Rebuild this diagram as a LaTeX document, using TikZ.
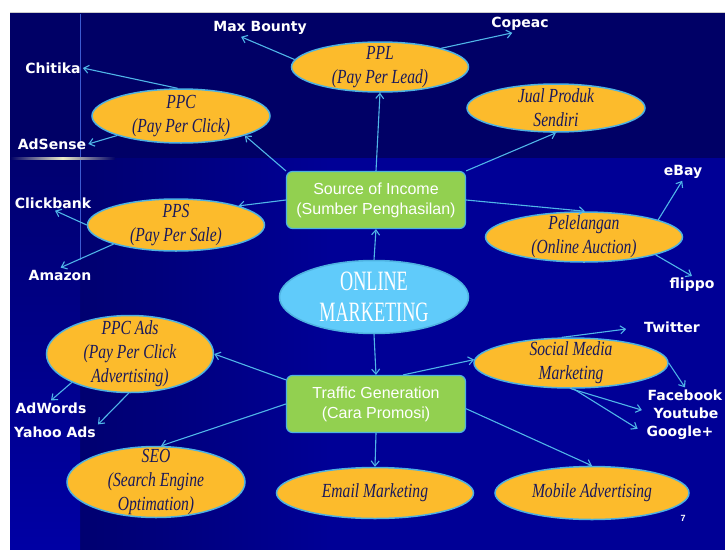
\documentclass[tikz,border=0pt]{standalone}
\usepackage{fontspec}
\setmainfont{DejaVu Sans}
\newfontfamily\boxfont{Liberation Sans}
\newfontfamily\handfont{Liberation Serif}[FakeStretch=0.78]
\newfontfamily\corefont{Liberation Serif}[FakeStretch=0.65]
\usetikzlibrary{
  shapes.geometric,
  backgrounds,
  arrows.meta,
}
\definecolor{slidetop}{RGB}{0,0,102}
\definecolor{slidelow}{RGB}{0,0,150}
\definecolor{slidedeep}{RGB}{0,0,112}
\definecolor{slideside}{RGB}{0,0,165}
\definecolor{glow}{RGB}{235,235,200}
\definecolor{sheen}{RGB}{60,90,210}
\definecolor{goldfill}{RGB}{252,187,44}
\definecolor{rimblue}{RGB}{78,178,225}
\definecolor{inktext}{RGB}{24,24,92}
\definecolor{hubgreen}{RGB}{146,208,80}
\definecolor{coreblue}{RGB}{96,203,250}
\definecolor{linkblue}{RGB}{80,182,232}
\tikzset{
  income/.style={
    ellipse,
    inner xsep=0pt,
    inner ysep=-14pt,
    align=center,
    draw=rimblue,
    line width=1.5pt,
    fill=goldfill,
    text=inktext,
    font=\handfont\itshape\fontsize{20}{24}\selectfont
  },
  hub/.style={
    rectangle,
    rounded corners=6pt,
    minimum width=179pt,
    minimum height=57pt,
    align=center,
    draw=rimblue,
    line width=1.2pt,
    fill=hubgreen,
    text=white,
    font=\boxfont\fontsize{16}{20}\selectfont
  },
  core/.style={
    ellipse,
    inner xsep=0pt,
    inner ysep=-12pt,
    minimum width=189pt,
    minimum height=73pt,
    align=center,
    draw=rimblue,
    line width=1.5pt,
    fill=coreblue,
    text=white,
    font=\corefont\fontsize{28}{31}\selectfont
  },
  site/.style={
    inner sep=2pt,
    text=white,
    font=\bfseries\fontsize{14}{16}\selectfont
  },
  arrow/.style={
    draw=linkblue,
    line width=1.1pt,
    -{Straight Barb[length=5pt, width=8pt]},
  },
}

\begin{document}
\begin{tikzpicture}[x=1pt, y=-1pt]

  \useasboundingbox (0,0) rectangle (725,549);

  % Centre and the two hubs
  \node (online) [core] at (374,297) {ONLINE\\MARKETING};
  \node (source_inc) [hub] at (376,200) {Source of Income\\(Sumber Penghasilan)};
  \node (traffic_gen) [hub] at (376,404) {Traffic Generation\\(Cara Promosi)};

  % Income ellipses
  \node (ppl) [income, minimum width=177pt, minimum height=50pt] at (380,67) {PPL\\(Pay Per Lead)};
  \node (ppc) [income, minimum width=178pt, minimum height=54pt] at (181,116) {PPC\\(Pay Per Click)};
  \node (jual) [income, minimum width=178pt, minimum height=48pt] at (556,108) {Jual Produk\\Sendiri};
  \node (pps) [income, minimum width=177pt, minimum height=52pt] at (176,225) {PPS\\(Pay Per Sale)};
  \node (pelelangan) [income, minimum width=197pt, minimum height=50pt] at (584,237) {Pelelangan\\(Online Auction)};

  % Promotion ellipses
  \node (ppc_ads) [income, minimum width=167pt, minimum height=77pt] at (130,354) {PPC Ads\\(Pay Per Click\\Advertising)};
  \node (social) [income, minimum width=194pt, minimum height=50pt] at (571,363) {Social Media\\Marketing};
  \node (seo) [income, minimum width=178pt, minimum height=71pt] at (156,482) {SEO\\(Search Engine\\Optimation)};
  \node (email) [income, minimum width=197pt, minimum height=51pt] at (375,493) {Email Marketing};
  \node (mobile) [income, minimum width=194pt, minimum height=53pt] at (592,493) {Mobile Advertising};

  % Sites
  \node (max_bounty) [site] at (260,28) {Max Bounty};
  \node (copeac) [site] at (520,24) {Copeac};
  \node (chitika) [site] at (53,68) {Chitika};
  \node (adsense) [site] at (52,144) {AdSense};
  \node (clickbank) [site] at (53,203) {Clickbank};
  \node (amazon) [site] at (60,275) {Amazon};
  \node (ebay) [site] at (683,172) {eBay};
  \node (flippo) [site] at (692,285) {flippo};
  \node (twitter) [site] at (672,327) {Twitter};
  \node (facebook) [site] at (685,395) {Facebook};
  \node (youtube) [site] at (686,413) {Youtube};
  \node (google) [site] at (680,433) {Google+};
  \node (adwords) [site] at (51,408) {AdWords};
  \node (yahoo) [site] at (55,432) {Yahoo Ads};
  \node (page_no) [text=white, font=\boxfont\bfseries\fontsize{9}{10}\selectfont] at (683,518) {7};

  % Slide background
  \begin{scope}[on background layer]
    \fill[white] (-5,-5) rectangle (730,555);
    \fill[slidetop] (10,12) rectangle (730,158);
    \fill[slidelow] (80,158) rectangle (730,555);
    \shade[left color=slidedeep, right color=slidelow] (80,158) rectangle (330,555);
    \shade[top color=slidedeep, bottom color=slideside] (10,158) rectangle (80,555);
    \draw[gray!40, line width=0.8pt] (10,12) -- (730,12);
    \draw[sheen, line width=0.6pt] (80,14) -- (80,260);
    \shade[left color=slidetop, right color=slidetop, middle color=glow] (10,157) rectangle (115,159.5);
  \end{scope}

  % Arrows
  \draw [arrow] (online.north) to (source_inc.south);
  \draw [arrow] (online.south) to (traffic_gen.north);

  \draw [arrow] (source_inc.north west) to (ppc.-17);
  \draw [arrow] (source_inc.north) to (ppl.south);
  \draw [arrow] (source_inc.north east) to (jual.south);
  \draw [arrow] (source_inc.west) to (pps.17);
  \draw [arrow] (source_inc.east) to (pelelangan.88);

  \draw [arrow] (ppl.175) to (max_bounty.205);
  \draw [arrow] (ppl.17) to (copeac.229);
  \draw [arrow] (ppc.97) to (chitika.east);
  \draw [arrow] (ppc.197) to (adsense.east);
  \draw [arrow] (pps.180) to (clickbank.-75);
  \draw [arrow] (pps.197) to (amazon.85);
  \draw [arrow] (pelelangan.13) to (ebay.-95);
  \draw [arrow] (pelelangan.-14) to (flippo.north);

  \draw [arrow] (traffic_gen.165) to (ppc_ads.east);
  \draw [arrow] (traffic_gen.47) to (social.178);
  \draw [arrow] (traffic_gen.west) to (seo.82);
  \draw [arrow] (traffic_gen.south) to (email.north);
  \draw [arrow] (traffic_gen.-3) to (mobile.north);

  \draw [arrow] (ppc_ads.206) to (adwords.north);
  \draw [arrow] (ppc_ads.-92) to (yahoo.north east);
  \draw [arrow, shorten >=16pt] (social.110) to (twitter.west);
  \draw [arrow] (social.east) to (facebook.north);
  \draw [arrow, shorten >=10pt] (social.south) to (youtube.west);
  \draw [arrow, shorten >=8pt] (social.-85) to (google.west);

\end{tikzpicture}
\end{document}
